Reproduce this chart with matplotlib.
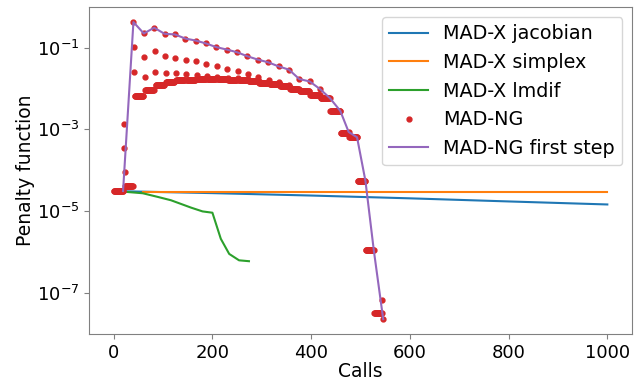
import numpy as np
import matplotlib
matplotlib.use("Agg")
import matplotlib.pyplot as plt
from matplotlib.ticker import NullLocator

# MAD-X runs
jac_calls = [22, 200, 400, 600, 800, 1000]
jac_pen = [3.05e-5, 2.75e-5, 2.4e-5, 2.05e-5, 1.72e-5, 1.45e-5]

simplex_calls = [59, 1000]
simplex_pen = [3.0e-5, 3.0e-5]

lmdif_calls = [22, 59, 90, 116, 157, 180, 200, 217, 234, 254, 274]
lmdif_pen = [2.97e-5, 2.73e-5, 2.21e-5, 1.84e-5, 1.21e-5, 9.8e-6, 9.1e-6,
             2.09e-6, 8.9e-7, 6.2e-7, 5.9e-7]

# MAD-NG: first step of each iteration
step_calls = [19, 40, 61, 82, 103, 124, 145, 166, 187, 208, 229, 250, 271,
              292, 313, 334, 355, 376, 397, 418, 438, 459, 476, 493, 510,
              527, 546]
step_pen = [3.1e-5, 0.428, 0.225, 0.311, 0.221, 0.213, 0.169, 0.151, 0.128,
            0.104, 0.0908, 0.078, 0.0621, 0.0515, 0.0442, 0.0352, 0.0292,
            0.0172, 0.0150, 0.00977, 0.00586, 0.00286, 8.67e-4, 6.43e-4,
            5.48e-5, 1.08e-6, 2.24e-8]

# MAD-NG: extra trial evaluations
trial_calls = [20, 21, 22,
               41, 62, 83, 104, 125, 146, 167, 188, 209, 230, 251, 272, 293,
               314, 335, 356,
               42, 63, 84, 105, 126, 147, 168, 189, 210, 231, 252, 273, 294,
               315, 336, 357,
               544]
trial_pen = [1.36e-3, 3.6e-4, 9.1e-5,
             0.106, 0.060, 0.0824, 0.0621, 0.0568, 0.0495, 0.0468, 0.0404,
             0.0352, 0.0304, 0.0265, 0.0229, 0.0193, 0.0166, 0.0142, 0.0123,
             0.0261, 0.0189, 0.0261, 0.0242, 0.0242, 0.0233, 0.0220, 0.0200,
             0.0196, 0.0182, 0.0181, 0.0171, 0.0157, 0.0144, 0.0128, 0.0109,
             6.46e-8]

# MAD-NG: runs of gradient evaluations (first call, last call, penalty)
grad_first = [0, 23, 43, 64, 85, 106, 127, 148, 169, 190, 211, 232, 253, 274,
              295, 316, 337, 358, 377, 398, 419, 439, 460, 477, 494, 511, 528]
grad_last = [18, 39, 60, 81, 102, 123, 144, 165, 186, 207, 228, 249, 270,
             291, 312, 333, 354, 375, 396, 417, 437, 458, 475, 492, 509, 526,
             543]
grad_pen = [3.1e-5, 4.06e-5, 0.00668, 0.0094, 0.01247, 0.01455, 0.0159,
            0.01656, 0.01706, 0.0172, 0.0172, 0.01656, 0.0161, 0.0152,
            0.01396, 0.01282, 0.01132, 0.00966, 0.00853, 0.00708, 0.00586,
            0.00286, 8.05e-4, 6.65e-4, 5.48e-5, 1.08e-6, 3.2e-8]

ng_x = list(step_calls) + list(trial_calls)
ng_y = list(step_pen) + list(trial_pen)
for a, b, v in zip(grad_first, grad_last, grad_pen):
    for c in range(a, b + 1):
        ng_x.append(c)
        ng_y.append(v)
order = np.argsort(ng_x, kind="stable")
ng_x = np.array(ng_x)[order]
ng_y = np.array(ng_y)[order]

plt.rcParams["font.size"] = 13

fig, ax = plt.subplots(figsize=(6.38, 3.8), dpi=100)
fig.subplots_adjust(left=0.1395, right=0.9906, top=0.981, bottom=0.121)

ax.plot(jac_calls, jac_pen, color="C0", label="MAD-X jacobian")
ax.plot(simplex_calls, simplex_pen, color="C1", label="MAD-X simplex")
ax.plot(lmdif_calls, lmdif_pen, color="C2", label="MAD-X lmdif")
ax.plot(ng_x, ng_y, ".", color="C3", ms=7, label="MAD-NG")
ax.plot(step_calls, step_pen, color="C4", label="MAD-NG first step")

ax.set_yscale("log")
ax.set_yticks([1e-7, 1e-5, 1e-3, 1e-1])
ax.yaxis.set_minor_locator(NullLocator())
ax.set_xticks([0, 200, 400, 600, 800, 1000])

for s in ax.spines.values():
    s.set_color("#808080")
ax.tick_params(color="#808080", labelsize=13)

ax.set_xlabel("Calls", fontsize=13.5, labelpad=0)
ax.set_ylabel("Penalty function", fontsize=13.5, labelpad=1)
ax.legend(loc="upper right", fontsize=13.8)

fig.savefig("out.png")
